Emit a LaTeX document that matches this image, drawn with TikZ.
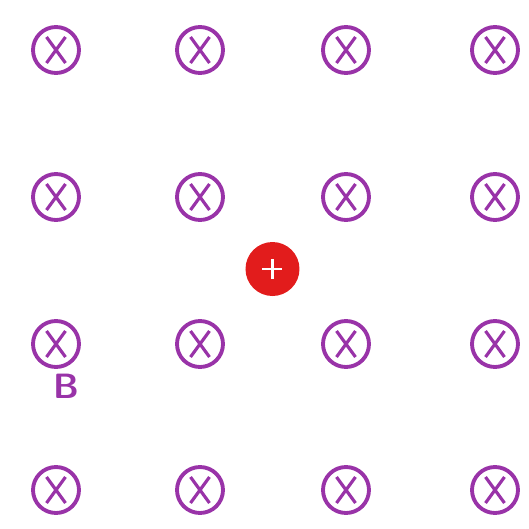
\documentclass[tikz,border=0pt]{standalone}
\usepackage{xcolor}
\usepackage{tikz}
\usetikzlibrary{calc}

\definecolor{xpurple}{RGB}{153,51,168}
\definecolor{srcred}{RGB}{226,28,28}

\tikzset{
  detector/.style={circle, draw=xpurple, line width=2.2pt, minimum size=0.92cm, inner sep=0pt,
    path picture={
      \draw[xpurple, line width=1.8pt]
        ($(path picture bounding box.center)+(-0.19,0.26)$) -- ($(path picture bounding box.center)+(0.19,-0.26)$)
        ($(path picture bounding box.center)+(0.19,0.26)$) -- ($(path picture bounding box.center)+(-0.19,-0.26)$);
    }},
  source/.style={circle, fill=srcred, minimum size=1.08cm, inner sep=0pt,
    path picture={
      \draw[white, line width=1.3pt]
        ($(path picture bounding box.center)+(-0.2,0)$) -- ($(path picture bounding box.center)+(0.2,0)$)
        ($(path picture bounding box.center)+(0,-0.2)$) -- ($(path picture bounding box.center)+(0,0.2)$);
    }},
  tag/.style={text=xpurple, font=\sffamily\bfseries\fontsize{20}{24}\selectfont}
}

\begin{document}
\begin{tikzpicture}
  % canvas: 529px square, 1px = 0.02cm, origin top-left
  \useasboundingbox (0,0) rectangle (10.58,-10.58);
  % 4 x 4 grid of detectors; columns ~56,200,346,495 px, rows ~50,197,344,490 px
  \foreach \i/\x in {1/1.12, 2/4.00, 3/6.92, 4/9.90} {
    \foreach \j/\y in {1/-1.00, 2/-3.94, 3/-6.88, 4/-9.80} {
      \node[detector] (det-\j-\i) at (\x,\y) {};
    }
  }
  % source in the middle
  \node[source] (src) at (5.45,-5.38) {};
  % label under row 3, column 1
  \node[tag] (lblB) at (1.32,-7.72) {B};
\end{tikzpicture}
\end{document}
